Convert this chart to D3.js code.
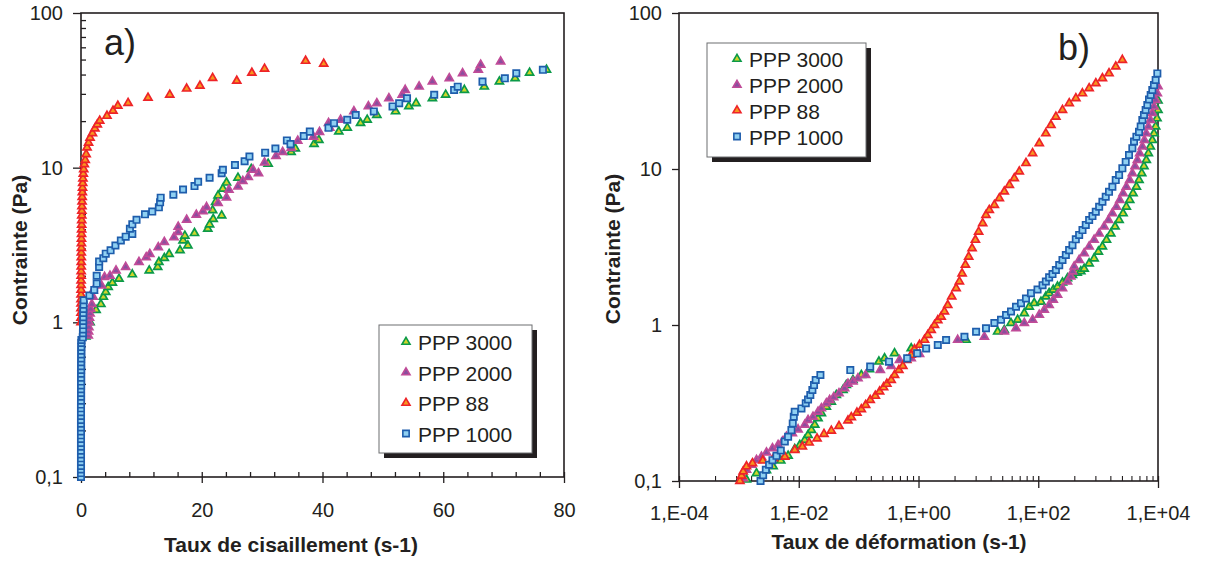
<!DOCTYPE html>
<html>
<head>
<meta charset="utf-8">
<script src="https://cdn.jsdelivr.net/npm/d3@7"></script>
<style>
  html, body { margin: 0; padding: 0; background: #ffffff; }
  svg { display: block; }
</style>
</head>
<body>
<script>
// ---------------- DATA ----------------
const seriesNames = ["PPP 3000", "PPP 2000", "PPP 88", "PPP 1000"];

// Panel a) : shear rate (s-1) vs stress (Pa)
const a_xTicks = [0, 20, 40, 60, 80];
const a_yTicks = [0.1, 1, 10, 100];
const yTickLabels = ["0,1", "1", "10", "100"];

const a_ppp3000_x = [0.8,1.5,2.5,3.3,3.7,4.1,4.5,5.2,6.3,8.5,11.3,12.7,12.9,13.8,14.6,16.4,17.7,16.9,17.2,18.8,21.0,21.3,21.9,23.3,21.8,22.3,22.7,23.5,24.1,26.0,28.2,31.0,34.8,35.5,38.6,39.4,42.7,44.1,46.3,47.4,49.0,52.1,54.3,55.5,58.2,60.4,63.5,66.8,69.3,71.9,74.3,77.1];
const a_ppp3000_y = [0.81,1.0,1.2,1.31,1.46,1.57,1.69,1.8,1.91,2.04,2.16,2.28,2.45,2.6,2.76,2.92,3.14,3.38,3.63,3.77,4.03,4.29,4.65,4.9,5.3,6.0,6.6,7.3,8.0,8.6,9.8,10.6,12.6,13.3,14.2,15.1,17.1,18.1,19.4,20.4,21.9,23.1,24.9,26.1,28.1,29.6,31.8,33.4,36.0,37.8,41.1,42.9];

const a_ppp2000_x = [1.2,1.25,1.3,1.35,1.4,1.5,1.6,1.8,2.0,2.0,3.4,3.9,4.8,5.8,7.4,9.6,10.8,11.4,12.8,13.8,15.4,16.1,16.1,17.5,19.1,20.2,20.8,22.7,24.1,24.5,26.0,26.8,27.7,29.4,28.5,30.4,32.3,33.4,34.8,35.9,38.5,39.5,41.2,41.0,43.0,45.2,47.6,49.0,51.0,53.2,53.7,56.0,58.2,61.0,63.2,65.8,66.2,69.5];
const a_ppp2000_y = [0.82,0.87,0.93,1.0,1.07,1.14,1.22,1.31,1.46,1.6,1.73,1.96,2.0,2.16,2.28,2.45,2.63,2.76,3.05,3.3,3.55,3.83,4.15,4.6,4.95,5.22,5.55,5.9,6.4,7.2,7.55,8.2,8.7,9.2,9.7,10.8,11.9,12.6,13.4,14.9,15.8,17.0,18.1,19.4,20.4,23.1,24.9,26.1,28.1,29.6,31.8,33.4,36.0,37.8,40.8,42.9,46.3,48.5];

const a_ppp88_x = [0,0,0,0,0.01,0.01,0.01,0.02,0.02,0.02,0.03,0.03,0.04,0.04,0.05,0.05,0.06,0.07,0.08,0.09,0.1,0.11,0.12,0.13,0.14,0.16,0.18,0.2,0.22,0.25,0.28,0.32,0.38,0.45,0.55,0.7,0.85,1.0,1.25,1.5,1.9,2.3,2.7,3.1,4.3,5.3,6.1,7.8,11.1,14.7,17.5,19.7,21.8,25.8,28.3,30.4,37.2,40.2];
const a_ppp88_y = [1.0,1.07,1.15,1.23,1.32,1.41,1.51,1.62,1.74,1.86,2.0,2.14,2.29,2.45,2.63,2.82,3.02,3.24,3.47,3.72,3.98,4.27,4.57,4.9,5.25,5.62,6.03,6.46,6.92,7.41,7.94,8.51,9.12,9.77,10.5,11.2,12.2,13.5,14.5,15.6,16.7,17.9,19.0,20.1,21.6,23.3,25.1,26.2,28.3,29.6,32.4,33.8,38.0,36.4,41.0,43.6,49.0,46.9];

const a_ppp1000_x = [0,0,0,0,0,0,0,0,0,0,0,0,0,0,0,0,0,0,0,0,0.01,0.01,0.01,0.01,0.02,0.02,0.02,0.02,0.03,0.03,0.03,0.04,0.04,0.05,0.05,0.06,0.07,
  0.3,0.32,0.34,0.35,0.36,0.37,0.38,0.4,0.42,0.45,
  1.4,2.2,2.6,2.6,3.0,3.0,3.7,4.1,4.9,5.7,6.6,7.4,8.5,8.1,8.5,9.2,10.6,11.8,12.9,13.1,13.2,15.3,16.9,18.8,19.4,21.3,23.3,23.5,25.5,27.1,27.9,30.5,32.2,34.1,34.7,36.9,37.9,41.0,41.9,44.1,45.5,48.5,51.6,52.7,54.0,58.5,61.8,62.4,66.5,70.2,72.1,76.5];
const a_ppp1000_y = [0.1,0.106,0.112,0.118,0.125,0.132,0.14,0.148,0.157,0.166,0.176,0.186,0.197,0.209,0.221,0.234,0.248,0.262,0.278,0.294,0.311,0.33,0.349,0.37,0.391,0.414,0.439,0.465,0.492,0.521,0.552,0.584,0.619,0.655,0.694,0.735,0.77,
  0.8,0.85,0.9,0.96,1.02,1.08,1.15,1.22,1.3,1.39,
  1.49,1.62,1.78,2.0,2.28,2.47,2.6,2.78,2.92,3.14,3.38,3.58,3.73,4.03,4.3,4.6,4.99,5.2,5.54,5.97,6.4,6.68,7.23,7.6,8.1,8.6,9.2,9.7,10.4,11.0,11.8,12.5,13.3,15.0,14.2,16.0,17.1,18.1,19.4,20.4,21.9,23.1,24.9,26.1,28.1,29.6,31.8,33.4,36.0,37.8,40.8,42.9];

// Panel b) : strain rate (s-1, log) vs stress (Pa)
const b_xTicks = [1e-4, 1e-2, 1, 1e2, 1e4];
const b_xTickLabels = ["1,E-04", "1,E-02", "1,E+00", "1,E+02", "1,E+04"];

const b_ppp3000_rate = [1.34e-3,1.97e-3,2.89e-3,3.73e-3,5.01e-3,6.64e-3,8.57e-3,1.04e-2,1.26e-2,1.43e-2,1.63e-2,1.85e-2,2.10e-2,2.39e-2,2.89e-2,3.50e-2,4.24e-2,5.48e-2,6.22e-2,8.04e-2,0.111,0.152,0.218,0.271,0.398,0.755,6.22,21.0,27.1,35.0,45.2,58.5,70.8,85.7,111,134,152,178,210,254,308,373,447,514,585,708,857,1010,1180,1380,1630,1920,2240,2610,2960,3370,3830,4360,4820,5350,5830,6380,6900,7450,8040,8570,9140,9620,10000,10000];
const b_ppp3000_stress = [0.102,0.112,0.117,0.124,0.135,0.145,0.160,0.170,0.183,0.197,0.212,0.229,0.252,0.272,0.299,0.322,0.356,0.383,0.412,0.444,0.478,0.520,0.582,0.611,0.658,0.708,0.802,0.906,0.929,1.03,1.08,1.19,1.31,1.38,1.41,1.52,1.60,1.68,1.76,1.87,1.99,2.09,2.16,2.21,2.29,2.48,2.67,2.95,3.18,3.51,3.86,4.27,4.71,5.19,5.73,6.32,6.98,7.69,8.49,9.38,10.4,11.4,12.6,13.9,15.3,16.9,18.7,21.1,23.9,27.5];

const b_ppp2000_rate = [1.18e-3,1.34e-3,1.63e-3,1.97e-3,2.38e-3,2.89e-3,3.64e-3,4.52e-3,5.33e-3,6.22e-3,7.83e-3,9.75e-3,1.26e-2,1.43e-2,1.73e-2,2.10e-2,2.39e-2,2.89e-2,3.28e-2,3.83e-2,4.70e-2,5.83e-2,6.64e-2,8.04e-2,9.75e-2,0.131,0.230,0.350,0.482,0.755,1.04,4.52,12.6,27.1,42.5,58.5,80.5,104,126,152,178,210,254,308,350,375,398,482,585,708,857,1040,1260,1490,1730,2020,2300,2610,2960,3370,3730,4130,4520,4940,5480,5920,6380,6900,7450,8040,8570,9140,9750,10000];
const b_ppp2000_stress = [0.104,0.118,0.127,0.136,0.143,0.152,0.162,0.170,0.179,0.192,0.202,0.214,0.229,0.246,0.258,0.278,0.292,0.315,0.330,0.344,0.365,0.393,0.419,0.434,0.455,0.478,0.514,0.546,0.596,0.611,0.652,0.802,0.841,0.906,0.953,1.03,1.08,1.16,1.25,1.34,1.45,1.56,1.72,1.90,2.04,2.20,2.37,2.61,2.88,3.18,3.51,3.86,4.27,4.71,5.19,5.73,6.32,6.98,7.69,8.49,9.38,10.4,11.4,12.6,13.9,15.3,16.9,18.7,20.6,22.8,25.1,27.7,30.5,33.9];

const b_ppp88_rate = [1.04e-3,1.11e-3,1.18e-3,1.34e-3,1.69e-3,2.51e-3,3.80e-3,5.85e-3,8.57e-3,1.15e-2,1.49e-2,2.02e-2,2.64e-2,3.50e-2,4.70e-2,6.64e-2,7.55e-2,9.38e-2,0.111,0.131,0.156,0.190,0.224,0.261,0.296,0.350,0.398,0.470,0.548,0.638,0.755,0.857,1.04,1.26,1.43,1.63,1.85,2.10,2.39,2.71,3.08,3.59,4.25,4.82,5.35,6.07,6.89,7.85,8.91,10.1,11.8,13.4,15.2,18.5,22.4,27.1,32.9,39.8,48.2,62.4,80.4,104,134,163,197,254,329,425,547,708,916,1180,1520,1970,2540];
const b_ppp88_stress = [0.100,0.108,0.115,0.124,0.130,0.135,0.140,0.143,0.158,0.166,0.176,0.187,0.200,0.210,0.225,0.244,0.256,0.274,0.288,0.307,0.330,0.351,0.374,0.398,0.419,0.444,0.478,0.514,0.546,0.596,0.643,0.698,0.745,0.802,0.863,0.929,1.00,1.07,1.13,1.22,1.34,1.52,1.72,1.90,2.14,2.43,2.74,3.10,3.51,3.96,4.49,5.07,5.46,5.87,6.49,7.16,7.89,8.71,9.62,10.9,12.6,14.6,16.9,19.1,21.6,23.9,26.4,28.4,30.5,32.9,35.4,38.1,41.0,45.3,50.0];

const b_ppp1000_rate = [2.30e-3,2.54e-3,2.82e-3,3.20e-3,3.64e-3,4.25e-3,5.01e-3,5.85e-3,6.64e-3,7.55e-3,7.94e-3,8.26e-3,8.57e-3,1.11e-2,1.31e-2,1.43e-2,1.56e-2,1.69e-2,1.80e-2,1.92e-2,2.30e-2,7.26e-2,0.156,0.321,0.647,0.951,1.34,2.10,2.89,5.85,9.16,13.4,18.5,23.9,29.0,35.1,42.5,51.5,62.4,75.5,97.3,118,134,152,173,197,224,254,289,328,373,424,482,548,622,708,804,914,1040,1180,1340,1520,1730,1970,2240,2540,2890,3280,3730,3980,4360,4820,5140,5480,5830,6220,6640,7080,7550,8040,8570,9140,9750];
const b_ppp1000_stress = [0.100,0.109,0.118,0.127,0.136,0.145,0.157,0.179,0.192,0.212,0.234,0.258,0.278,0.292,0.315,0.333,0.356,0.383,0.412,0.444,0.478,0.514,0.541,0.582,0.611,0.658,0.708,0.745,0.802,0.841,0.906,0.953,1.03,1.08,1.16,1.22,1.31,1.38,1.48,1.60,1.69,1.80,1.90,2.02,2.12,2.25,2.42,2.61,2.81,3.02,3.25,3.54,3.78,4.06,4.38,4.71,4.99,5.32,5.73,6.17,6.64,7.14,7.69,8.49,9.14,10.1,11.1,12.3,13.6,15.0,16.1,17.3,18.7,20.6,22.2,23.9,25.7,27.9,29.8,32.1,34.5,37.2,41.0];

// ---------------- STYLE ----------------
const INK = "#231f20";
const FONT = "'Liberation Sans', Arial, Helvetica, sans-serif";
const styles = [
  { shape: "tri", stroke: "#0b9a48", fill: "#cfd62a" },  // PPP 3000
  { shape: "tri", stroke: "#c04b98", fill: "#8a4e9e" },  // PPP 2000
  { shape: "tri", stroke: "#ee2328", fill: "#f7961f" },  // PPP 88
  { shape: "sq",  stroke: "#1e5dac", fill: "#8fd0f2" }   // PPP 1000
];
const triPath = d3.symbol(d3.symbolTriangle, 28)();
const sqPath = d3.symbol(d3.symbolSquare, 40)();

const zip = (xs, ys) => xs.map((x, i) => [x, ys[i]]);
const panelA = [zip(a_ppp3000_x, a_ppp3000_y), zip(a_ppp2000_x, a_ppp2000_y), zip(a_ppp88_x, a_ppp88_y), zip(a_ppp1000_x, a_ppp1000_y)];
const panelB = [zip(b_ppp3000_rate, b_ppp3000_stress), zip(b_ppp2000_rate, b_ppp2000_stress), zip(b_ppp88_rate, b_ppp88_stress), zip(b_ppp1000_rate, b_ppp1000_stress)];

const svg = d3.select("body").append("svg").attr("width", 1206).attr("height", 565)
  .style("font-family", FONT);

// ---------------- SCALES ----------------
const xA = d3.scaleLinear().domain([0, 80]).range([81, 564]);
const yA = d3.scaleLog().domain([0.1, 100]).range([477, 13]);
const xB = d3.scaleLog().domain([1e-4, 1e4]).range([679, 1158]);
const yB = d3.scaleLog().domain([0.1, 100]).range([481, 13]);

function styleAxis(g, fs) {
  g.attr("font-family", FONT).attr("font-size", fs || 20);
  g.select(".domain").remove();
  g.selectAll(".tick line").attr("stroke", INK).attr("stroke-width", 1.3);
  g.selectAll(".tick text").attr("fill", INK);
}

function logMinors(lo, hi) {
  const out = [];
  for (let e = Math.log10(lo); e < Math.log10(hi); e++) {
    for (let k = 2; k <= 9; k++) out.push(k * Math.pow(10, e));
  }
  return out;
}

// ---------------- PANEL A AXES ----------------
{
  const gx = svg.append("g").attr("transform", "translate(0,477)");
  gx.call(d3.axisBottom(xA).tickValues(a_xTicks).tickSize(6).tickFormat(d => d));
  styleAxis(gx);
  gx.selectAll(".tick text").attr("y", 40).attr("dy", 0);
  const gxi = svg.append("g").attr("transform", "translate(0,477)");
  gxi.call(d3.axisBottom(xA).tickValues(a_xTicks).tickSize(-5).tickFormat(""));
  styleAxis(gxi);
  const minorX = d3.range(4, 80, 4).filter(v => v % 20 !== 0);
  const gxm = svg.append("g").attr("transform", "translate(0,477)");
  gxm.call(d3.axisBottom(xA).tickValues(minorX).tickSize(-5).tickFormat(""));
  styleAxis(gxm);

  const gy = svg.append("g").attr("transform", "translate(81,0)");
  gy.call(d3.axisLeft(yA).tickValues(a_yTicks).tickSize(8).tickPadding(10).tickFormat((d, i) => yTickLabels[i]));
  styleAxis(gy);
  const gym = svg.append("g").attr("transform", "translate(81,0)");
  gym.call(d3.axisLeft(yA).tickValues(logMinors(0.1, 100)).tickSize(-5).tickFormat(""));
  styleAxis(gym);

  svg.append("rect").attr("x", 81).attr("y", 13).attr("width", 483).attr("height", 464)
    .attr("fill", "none").attr("stroke", INK).attr("stroke-width", 1.6);
}

// ---------------- PANEL B AXES ----------------
{
  const gx = svg.append("g").attr("transform", "translate(0,481)");
  gx.call(d3.axisBottom(xB).tickValues(b_xTicks).tickSize(7).tickFormat((d, i) => b_xTickLabels[i]));
  styleAxis(gx);
  gx.selectAll(".tick text").attr("y", 39).attr("dy", 0);
  const gxi = svg.append("g").attr("transform", "translate(0,481)");
  gxi.call(d3.axisBottom(xB).tickValues(b_xTicks).tickSize(-5).tickFormat(""));
  styleAxis(gxi);
  // minor ticks placed at k^2 multiples of each (two-decade) major interval
  const minorB = [];
  for (let m = 0; m < b_xTicks.length - 1; m++) {
    for (let k = 2; k <= 9; k++) minorB.push(b_xTicks[m] * k * k);
  }
  const gxm = svg.append("g").attr("transform", "translate(0,481)");
  gxm.call(d3.axisBottom(xB).tickValues(minorB).tickSize(-5).tickFormat(""));
  styleAxis(gxm);
  gxm.selectAll(".tick line").attr("stroke-width", 1.1);

  const gy = svg.append("g").attr("transform", "translate(679,0)");
  gy.call(d3.axisLeft(yB).tickValues(a_yTicks).tickSize(7).tickPadding(10).tickFormat((d, i) => yTickLabels[i]));
  styleAxis(gy);

  svg.append("rect").attr("x", 679).attr("y", 13).attr("width", 479).attr("height", 468)
    .attr("fill", "none").attr("stroke", INK).attr("stroke-width", 1.6);
}

// ---------------- MARKERS ----------------
function drawSeries(data, xs, ys) {
  data.forEach((pts, si) => {
    const st = styles[si];
    const path = st.shape === "tri" ? triPath : sqPath;
    svg.append("g").selectAll("path").data(pts).join("path")
      .attr("d", path)
      .attr("transform", d => `translate(${xs(d[0])},${ys(d[1])})`)
      .attr("fill", st.fill)
      .attr("stroke", st.stroke)
      .attr("stroke-width", 1.7)
      .attr("stroke-linejoin", "miter");
  });
}
drawSeries(panelA, xA, yA);
drawSeries(panelB, xB, yB);

// ---------------- LEGENDS ----------------
function legend(x, y, w, h, markerX, textX, baselines, fs) {
  svg.append("rect").attr("x", x + 5).attr("y", y + 5).attr("width", w).attr("height", h).attr("fill", INK);
  svg.append("rect").attr("x", x).attr("y", y).attr("width", w).attr("height", h)
    .attr("fill", "#ffffff").attr("stroke", "#6d6e71").attr("stroke-width", 1);
  seriesNames.forEach((name, i) => {
    const st = styles[i];
    svg.append("path").attr("d", st.shape === "tri" ? triPath : sqPath)
      .attr("transform", `translate(${markerX},${baselines[i] - 8})`)
      .attr("fill", st.fill).attr("stroke", st.stroke).attr("stroke-width", 1.6);
    svg.append("text").attr("x", textX).attr("y", baselines[i])
      .attr("font-size", fs).attr("fill", INK).text(name);
  });
}
legend(379, 325, 153, 128, 406, 418, [350, 380.5, 411, 441.5], 21);
legend(707, 43, 159, 114, 737, 749, [67, 93, 118.5, 144.5], 21);

// ---------------- TITLES ----------------
svg.append("text").attr("x", 104).attr("y", 55).attr("font-size", 36).attr("fill", INK).text("a)");
svg.append("text").attr("x", 1058).attr("y", 60).attr("font-size", 36).attr("fill", INK).text("b)");

svg.append("text").attr("x", 291).attr("y", 552).attr("text-anchor", "middle")
  .attr("font-size", 21).attr("font-weight", "bold").attr("fill", INK).text("Taux de cisaillement (s-1)");
svg.append("text").attr("x", 899).attr("y", 549).attr("text-anchor", "middle")
  .attr("font-size", 21).attr("font-weight", "bold").attr("fill", INK).text("Taux de déformation (s-1)");

svg.append("text").attr("transform", "translate(27,250) rotate(-90)").attr("text-anchor", "middle")
  .attr("font-size", 21).attr("font-weight", "bold").attr("fill", INK).text("Contrainte (Pa)");
svg.append("text").attr("transform", "translate(620,249) rotate(-90)").attr("text-anchor", "middle")
  .attr("font-size", 21).attr("font-weight", "bold").attr("fill", INK).text("Contrainte (Pa)");
</script>
</body>
</html>
